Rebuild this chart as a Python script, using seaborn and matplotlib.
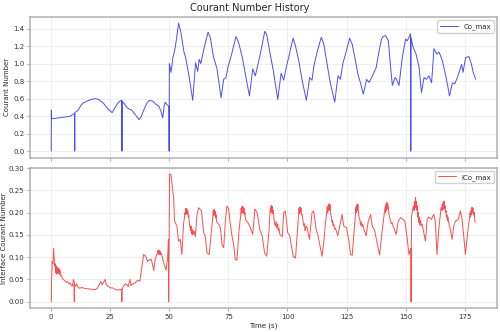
import matplotlib
matplotlib.use("Agg")
import numpy as np
import pandas as pd
import matplotlib.pyplot as plt
import seaborn as sns

# (time [s], Co_max)
co_points = [
    (0.0, 0.0), (0.05, 0.47), (0.2, 0.37), (3, 0.38), (6, 0.39), (8, 0.40), (9.9, 0.43),
    (9.95, 0.0), (10.0, 0.44), (11.5, 0.47), (12.5, 0.52), (13.5, 0.55), (15, 0.57),
    (17, 0.59), (18.5, 0.60), (20, 0.59), (22, 0.55), (24, 0.48), (25.8, 0.44), (27, 0.50),
    (28.5, 0.56), (29.5, 0.58), (29.9, 0.58), (29.95, 0.0), (30.0, 0.57), (31, 0.54),
    (32, 0.50), (33, 0.48), (34, 0.47), (35.5, 0.42), (37.2, 0.36), (38.2, 0.40), (39, 0.46),
    (40.5, 0.55), (41.5, 0.58), (43, 0.57), (44.5, 0.53), (45.5, 0.52), (46.5, 0.45),
    (47.2, 0.38), (47.7, 0.50), (48.2, 0.56), (49, 0.53), (49.8, 0.51), (49.9, 0.0),
    (50.0, 1.0), (50.7, 0.90), (51.5, 1.07), (52.4, 1.17), (53.0, 1.28), (53.9, 1.46),
    (54.8, 1.37), (56.2, 1.13), (56.9, 1.07), (58.3, 0.86), (59.9, 0.58), (61.1, 1.01),
    (62.0, 0.91), (62.6, 1.05), (63.3, 1.0), (64.8, 1.19), (66.4, 1.36), (67.4, 1.29),
    (68.7, 1.07), (70.1, 0.95), (71.9, 0.61), (73.0, 0.82), (74.0, 0.84), (74.8, 0.96),
    (76.2, 1.09), (77.2, 1.20), (78.2, 1.31), (79.3, 1.24), (80.9, 1.07), (82.3, 0.86),
    (83.9, 0.63), (85.3, 0.94), (86.4, 0.86), (87.5, 0.99), (88.8, 1.15), (90.4, 1.37),
    (91.2, 1.33), (92.6, 1.12), (94.0, 0.92), (95.9, 0.59), (97.3, 0.89), (98.4, 0.81),
    (99.5, 0.96), (100.5, 1.07), (101.5, 1.19), (102.4, 1.29), (103.4, 1.20), (104.8, 1.03),
    (106.2, 0.81), (108.0, 0.58), (109.4, 0.84), (110.4, 0.81), (111.1, 0.96), (112.5, 1.13),
    (114.3, 1.30), (115.4, 1.22), (116.8, 0.99), (118.2, 0.77), (120.0, 0.56), (121.4, 0.86),
    (122.4, 0.82), (123.5, 1.01), (124.5, 1.10), (126.3, 1.29), (127.4, 1.22), (128.8, 1.03),
    (129.8, 0.88), (131.0, 0.77), (132.1, 0.65), (133.5, 0.82), (134.5, 0.785), (135.6, 0.84),
    (136.6, 0.90), (137.5, 0.95), (138.4, 1.09), (139.8, 1.28), (140.5, 1.31), (141.5, 1.32),
    (142.1, 1.29), (142.7, 1.26), (143.5, 1.0), (144.4, 0.75), (145.5, 0.84), (146.2, 0.82),
    (147.2, 0.75), (148.6, 1.07), (150.0, 1.28), (150.7, 1.26), (151.4, 1.30), (152.1, 1.34),
    (152.2, 0.0), (152.3, 1.30), (153.0, 1.20), (154.4, 1.11), (155.7, 0.96), (156.7, 0.67),
    (157.8, 0.84), (158.8, 0.82), (159.9, 0.86), (161.0, 0.78), (162.0, 1.17), (163.2, 1.11),
    (164.2, 1.13), (165.6, 1.03), (167.3, 0.82), (168.6, 0.63), (169.8, 0.78), (170.8, 0.77),
    (171.9, 0.84), (173.0, 0.93), (173.7, 0.99), (174.3, 0.90), (175.4, 1.07), (176.8, 1.08),
    (177.8, 1.0), (178.6, 0.90), (179.7, 0.82),
]

# (time [s], ICo_max), jitter included where the trace is thick
ico_points = [
    (0.0, 0.0), (0.1, 0.04), (0.4, 0.09), (0.7, 0.085), (1.0, 0.12), (1.2, 0.10), (1.5, 0.08),
    (1.7, 0.085), (1.9, 0.065), (2.1, 0.08), (2.3, 0.062), (2.5, 0.077), (2.7, 0.064),
    (2.9, 0.075), (3.1, 0.063), (3.3, 0.074), (3.5, 0.062), (3.7, 0.07), (3.9, 0.058),
    (4.2, 0.06), (4.8, 0.052), (5.5, 0.048), (6.0, 0.046), (6.5, 0.043), (7.0, 0.045),
    (7.5, 0.04), (8.0, 0.042), (8.5, 0.037), (9.0, 0.035), (9.4, 0.05), (9.7, 0.045),
    (9.75, 0.0), (9.8, 0.04), (10.3, 0.035), (10.8, 0.04), (11.3, 0.033), (12, 0.03),
    (13, 0.032), (14, 0.03), (15.5, 0.029), (17, 0.028), (18.5, 0.027), (19.5, 0.03),
    (20.3, 0.038), (21, 0.045), (21.6, 0.038), (22.2, 0.044), (22.8, 0.05), (23.3, 0.038),
    (24, 0.035), (25, 0.031), (26, 0.031), (27, 0.028), (28, 0.026), (29, 0.027),
    (29.85, 0.028), (29.9, 0.0), (29.95, 0.028), (30.6, 0.035), (31.3, 0.04), (32, 0.038),
    (32.6, 0.034), (33.3, 0.05), (33.8, 0.036), (34.5, 0.04), (35.5, 0.042), (36.5, 0.048),
    (37.5, 0.046), (38.3, 0.075), (39.1, 0.106), (40.0, 0.102), (40.8, 0.09), (41.5, 0.094),
    (42.3, 0.095), (42.8, 0.085), (43.4, 0.07), (44.0, 0.095), (44.6, 0.105), (45.0, 0.11),
    (45.2, 0.115), (45.4, 0.106), (45.6, 0.116), (45.8, 0.107), (46.0, 0.114), (46.2, 0.106),
    (46.5, 0.11), (47.0, 0.10), (47.5, 0.09), (48.0, 0.08), (48.6, 0.071), (49.3, 0.10),
    (49.6, 0.14), (49.7, 0.0), (50.1, 0.287), (50.7, 0.285), (51.3, 0.255), (51.8, 0.234),
    (52.2, 0.181), (53.2, 0.17), (53.9, 0.136), (54.6, 0.14), (55.3, 0.106), (56.0, 0.174),
    (56.4, 0.19), (56.6, 0.20), (56.8, 0.196), (57.0, 0.21), (57.2, 0.198), (57.4, 0.208),
    (57.6, 0.196), (57.8, 0.205), (58.0, 0.19), (58.2, 0.194), (58.4, 0.18), (58.6, 0.17),
    (58.8, 0.165), (59.0, 0.16), (59.2, 0.17), (59.4, 0.152), (59.6, 0.162), (59.8, 0.15),
    (60.0, 0.16), (60.3, 0.152), (60.6, 0.158), (61.0, 0.146), (61.7, 0.195), (62.4, 0.211),
    (63.6, 0.204), (64.5, 0.155), (65.2, 0.148), (65.9, 0.11), (66.9, 0.106), (67.8, 0.16),
    (68.4, 0.19), (68.6, 0.205), (68.8, 0.193), (69.0, 0.208), (69.2, 0.195), (69.4, 0.203),
    (69.6, 0.188), (69.8, 0.195), (70.0, 0.18), (70.2, 0.178), (70.9, 0.174), (71.6, 0.166),
    (72.3, 0.129), (73.0, 0.121), (73.7, 0.181), (74.4, 0.215), (75.1, 0.208), (75.8, 0.174),
    (76.5, 0.148), (77.2, 0.129), (77.9, 0.095), (78.6, 0.093), (79.5, 0.16), (80.2, 0.195),
    (80.4, 0.21), (80.6, 0.198), (80.8, 0.214), (81.0, 0.20), (81.2, 0.213), (81.4, 0.199),
    (81.6, 0.21), (81.8, 0.195), (82.0, 0.20), (82.2, 0.185), (82.6, 0.182), (83.2, 0.178),
    (84.3, 0.166), (85.3, 0.151), (86.2, 0.208), (87.2, 0.20), (88.2, 0.163), (89.3, 0.148),
    (90.3, 0.11), (91.2, 0.102), (92.2, 0.16), (92.6, 0.20), (92.8, 0.213), (93.0, 0.20),
    (93.2, 0.216), (93.4, 0.202), (93.6, 0.214), (93.8, 0.198), (94.0, 0.205), (94.3, 0.185),
    (94.6, 0.175), (94.9, 0.17), (95.2, 0.18), (95.5, 0.165), (95.8, 0.175), (96.1, 0.16),
    (96.4, 0.165), (96.8, 0.151), (97.8, 0.146), (98.4, 0.20), (99.1, 0.204), (100.1, 0.155),
    (101.0, 0.148), (101.5, 0.13), (102.4, 0.102), (103.4, 0.098), (104.1, 0.151),
    (104.7, 0.195), (104.9, 0.21), (105.1, 0.198), (105.3, 0.213), (105.5, 0.20),
    (105.7, 0.21), (105.9, 0.195), (106.2, 0.196), (106.6, 0.18), (106.9, 0.17),
    (107.2, 0.175), (107.4, 0.16), (107.6, 0.163), (107.9, 0.17), (108.3, 0.166),
    (109.3, 0.14), (110.4, 0.20), (111.1, 0.204), (112.1, 0.163), (112.8, 0.151),
    (113.6, 0.13), (114.6, 0.102), (115.3, 0.13), (116.0, 0.174), (116.6, 0.20),
    (116.8, 0.212), (117.0, 0.20), (117.2, 0.216), (117.4, 0.204), (117.6, 0.22),
    (117.8, 0.206), (118.0, 0.218), (118.3, 0.196), (118.6, 0.19), (118.9, 0.178),
    (119.1, 0.183), (119.3, 0.17), (119.6, 0.175), (119.9, 0.163), (120.3, 0.165),
    (121.3, 0.148), (122.4, 0.178), (123.1, 0.196), (123.8, 0.17), (125.0, 0.166),
    (126.0, 0.136), (126.7, 0.106), (127.4, 0.104), (128.1, 0.151), (128.8, 0.20),
    (129.0, 0.212), (129.2, 0.20), (129.4, 0.218), (129.6, 0.205), (129.8, 0.219),
    (130.0, 0.204), (130.3, 0.19), (130.6, 0.185), (130.9, 0.172), (131.2, 0.18),
    (131.5, 0.168), (131.8, 0.174), (132.3, 0.163), (133.3, 0.148), (134.2, 0.181),
    (135.2, 0.196), (135.9, 0.17), (136.9, 0.16), (138.0, 0.13), (139.0, 0.105),
    (140.1, 0.16), (141.0, 0.20), (141.3, 0.212), (141.5, 0.20), (141.7, 0.218),
    (141.9, 0.205), (142.1, 0.223), (142.3, 0.208), (142.5, 0.22), (142.9, 0.20),
    (143.2, 0.19), (143.6, 0.181), (143.9, 0.175), (144.3, 0.178), (144.6, 0.17),
    (145.0, 0.166), (146.0, 0.151), (146.9, 0.181), (147.9, 0.189), (148.9, 0.185),
    (149.7, 0.181), (150.7, 0.14), (151.4, 0.106), (152.2, 0.12), (152.3, 0.0),
    (152.5, 0.19), (152.9, 0.204), (153.3, 0.215), (153.6, 0.205), (153.8, 0.225),
    (154.0, 0.21), (154.2, 0.234), (154.4, 0.212), (154.6, 0.225), (154.8, 0.205),
    (155.0, 0.215), (155.2, 0.19), (155.4, 0.20), (155.6, 0.178), (155.8, 0.19),
    (156.0, 0.172), (156.3, 0.183), (156.6, 0.17), (157.0, 0.174), (157.7, 0.155),
    (158.4, 0.136), (159.1, 0.185), (159.8, 0.19), (160.9, 0.185), (161.9, 0.196),
    (162.6, 0.178), (163.3, 0.106), (164.0, 0.16), (165.0, 0.211), (165.3, 0.205),
    (165.5, 0.218), (165.7, 0.206), (165.9, 0.222), (166.1, 0.208), (166.3, 0.226),
    (166.5, 0.21), (166.7, 0.215), (166.9, 0.20), (167.1, 0.205), (167.3, 0.19),
    (167.5, 0.195), (167.7, 0.182), (168.0, 0.19), (168.3, 0.175), (168.6, 0.17),
    (169.0, 0.16), (169.7, 0.14), (170.4, 0.17), (171.1, 0.181), (172.2, 0.184),
    (173.2, 0.204), (173.9, 0.185), (174.6, 0.148), (175.3, 0.106), (176.5, 0.166),
    (177.1, 0.19), (177.3, 0.20), (177.5, 0.19), (177.7, 0.205), (177.9, 0.196),
    (178.1, 0.212), (178.3, 0.20), (178.5, 0.21), (178.8, 0.195), (179.1, 0.20),
    (179.3, 0.18), (179.5, 0.178),
]

x_ticks = [0, 25, 50, 75, 100, 125, 150, 175]
co_ticks = [0.0, 0.2, 0.4, 0.6, 0.8, 1.0, 1.2, 1.4]
ico_ticks = [0.00, 0.05, 0.10, 0.15, 0.20, 0.25, 0.30]

co_df = pd.DataFrame(co_points, columns=["time", "Co_max"])
ico_df = pd.DataFrame(ico_points, columns=["time", "ICo_max"])

sns.set_style("whitegrid", {
    "axes.edgecolor": "#b0b0b0",
    "grid.color": "#ededed",
    "xtick.bottom": True,
    "ytick.left": True,
})
plt.rcParams["font.family"] = ["DejaVu Sans"]
plt.rcParams["axes.linewidth"] = 1.1
plt.rcParams["grid.linewidth"] = 0.6

fig, (ax1, ax2) = plt.subplots(2, 1, figsize=(5, 3.32), dpi=100, sharex=True)
fig.subplots_adjust(left=0.06, right=0.994, top=0.949, bottom=0.072, hspace=0.071)

sns.lineplot(data=co_df, x="time", y="Co_max", ax=ax1, color="blue", lw=0.7,
             alpha=0.7, label="Co_max", estimator=None)
sns.lineplot(data=ico_df, x="time", y="ICo_max", ax=ax2, color="red", lw=0.7,
             alpha=0.7, label="ICo_max", estimator=None)

for ax in (ax1, ax2):
    ax.tick_params(length=2, width=0.6, labelsize=5, pad=2, colors="#333333")
    ax.tick_params(color="#999999")
    ax.legend(loc="upper right", fontsize=5, framealpha=0.9, handlelength=2.5)
    ax.set_xticks(x_ticks)

ax1.set_yticks(co_ticks)
ax2.set_yticks(ico_ticks)
ax2.yaxis.set_major_formatter(matplotlib.ticker.FormatStrFormatter("%.2f"))
ax1.set_xlabel("")
ax1.set_ylabel("Courant Number", fontsize=5)
ax2.set_ylabel("Interface Courant Number", fontsize=5)
ax1.yaxis.set_label_coords(-0.043, 0.5)
ax2.yaxis.set_label_coords(-0.05, 0.5)
ax2.set_xlabel("Time (s)", fontsize=5, labelpad=2)
fig.suptitle("Courant Number History", fontsize=7, y=0.99)

fig.savefig("out.png", dpi=100)
